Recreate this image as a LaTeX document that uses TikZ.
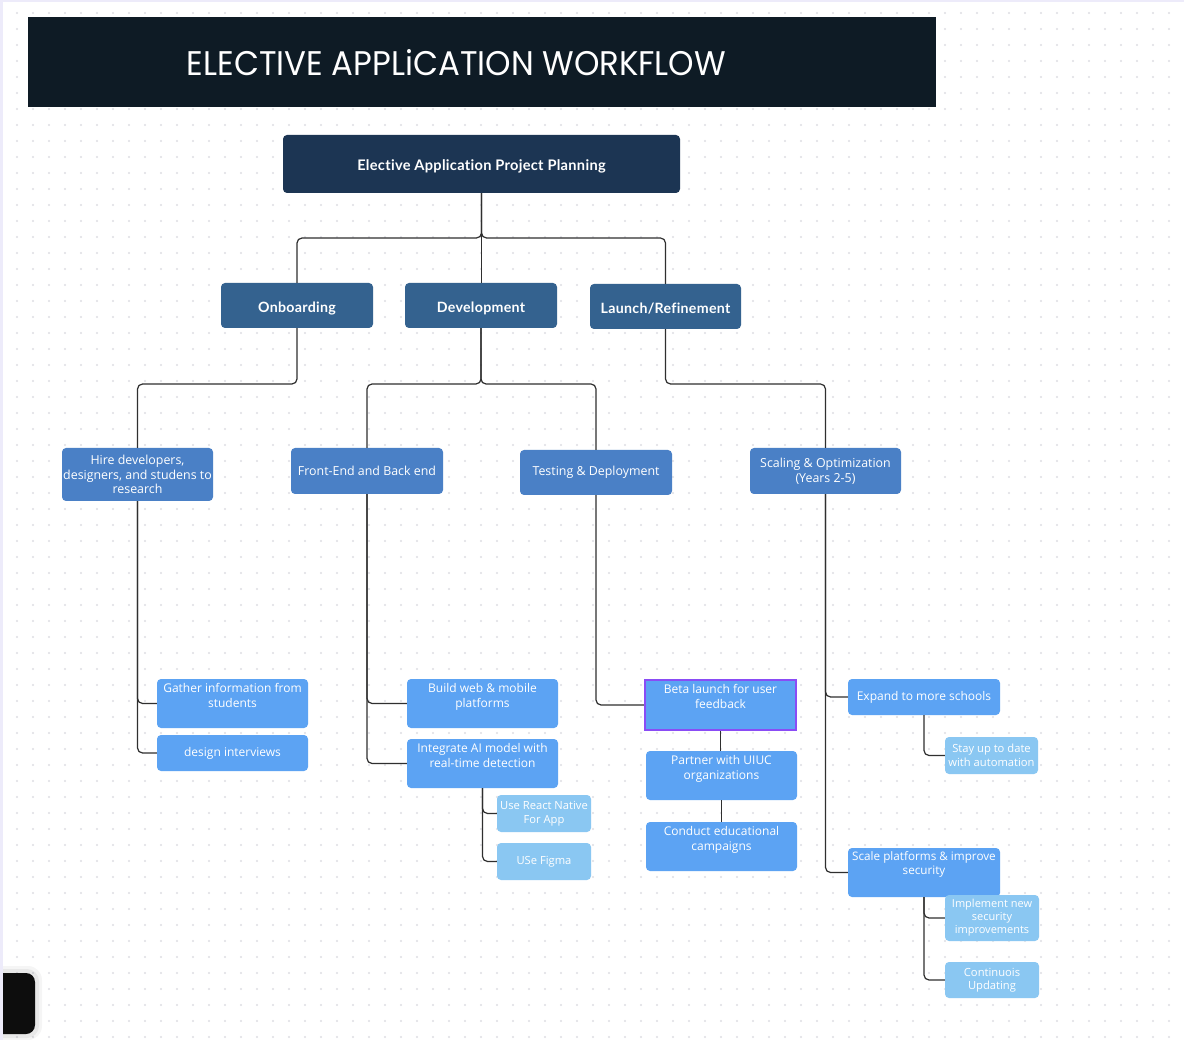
\documentclass[tikz,border=0pt]{standalone}
\usepackage{fontspec}
\setmainfont{Open Sans}
\newfontfamily\headf{Lato}[Ligatures={NoCommon,NoRequired,NoContextual}, LetterSpace=2]
\newfontfamily\titlef{Poppins}
\usetikzlibrary{calc}
\definecolor{titlebg}{HTML}{0E1B25}
\definecolor{navy}{HTML}{1C3553}
\definecolor{steel}{HTML}{34628F}
\definecolor{midb}{HTML}{4A80C6}
\definecolor{lightb}{HTML}{5CA3F3}
\definecolor{paleb}{HTML}{8AC7F2}
\definecolor{purp}{HTML}{8A4CF5}
\definecolor{linec}{HTML}{2F2F2F}
\definecolor{dotc}{HTML}{DEDEE3}
\definecolor{lav}{HTML}{EDEBFA}
\tikzset{
  box/.style={rectangle, rounded corners=4pt, inner sep=1pt, align=center, text=white},
  mainbox/.style={box, fill=navy, text height=13.4pt, text depth=0pt, font=\headf\bfseries\fontsize{14.6}{17}\selectfont},
  lvtwo/.style={box, fill=steel, minimum width=152pt, minimum height=45pt, text height=13.2pt, text depth=0pt, font=\headf\bfseries\fontsize{14.2}{17}\selectfont},
  lvthree/.style={box, fill=midb, minimum width=152pt, font=\fontsize{12.4}{14.8}\selectfont},
  lvfour/.style={box, fill=lightb, minimum width=151pt, font=\fontsize{12}{14.8}\selectfont},
  lvfive/.style={box, fill=paleb, minimum width=94pt, font=\fontsize{11.2}{13.5}\selectfont},
  ttext/.style={inner sep=0pt, align=center, text=white, font=\fontsize{12}{14.8}\selectfont, anchor=north},
  conn/.style={draw=linec, line width=1.2pt, rounded corners=5pt},
}
\begin{document}
\begin{tikzpicture}[x=1pt,y=-1pt]
\useasboundingbox (0,0) rectangle (1184,1040);
\fill[white] (0,0) rectangle (1184,1040);
% dotted grid
\foreach \gx in {17,33,...,1184}{
  \foreach \gy in {13,29,...,1040}{
    \fill[dotc] (\gx,\gy) circle (1.1pt);
  }
}
\fill[lav] (0,0) rectangle (3,1040);
\fill[lav] (0,0) rectangle (1184,2);

% title bar
\fill[titlebg] (28,17) rectangle (936,107);
\node[inner sep=0pt, text=white] (title) at (456.5,62.5)
  {\resizebox{539pt}{26pt}{\titlef ELECTIVE APPLiCATION WORKFLOW}};

% nodes
\node[mainbox, minimum width=397pt, minimum height=58pt] (main) at (481.5,164) {Elective Application Project Planning};

\node[lvtwo] (onb) at (297,305.5) {Onboarding};
\node[lvtwo] (dev) at (481,305.5) {Development};
\node[lvtwo, minimum width=151pt] (lau) at (665.5,306.5) {Launch/Refinement};

\node[lvthree, minimum width=151pt, minimum height=53pt] (hire) at (137.5,474.5) {Hire developers,\\designers, and studens to\\research};
\node[lvthree, minimum height=46pt] (fe) at (367,471) {Front-End and Back end};
\node[lvthree, minimum height=45pt] (td) at (596,472.5) {Testing \& Deployment};
\node[lvthree, minimum width=151pt, minimum height=46pt] (so) at (825.5,471) {Scaling \& Optimization\\(Years 2-5)};

\node[lvfour, minimum height=49pt] (gather) at (232.5,703.5) {};
\node[ttext] (gathert) at ([yshift=-4.5pt]gather.north) {Gather information from\\students};
\node[lvfour, minimum height=36pt] (di) at (232.5,753) {design interviews};

\node[lvfour, minimum height=49pt] (build) at (482.5,703.5) {};
\node[ttext] (buildt) at ([yshift=-4.5pt]build.north) {Build web \& mobile\\platforms};
\node[lvfour, minimum height=49pt] (integ) at (482.5,763.5) {};
\node[ttext] (integt) at ([yshift=-4.5pt]integ.north) {Integrate AI model with\\real-time detection};

\node[lvfive, minimum height=37pt] (react) at (544,813.5) {Use React Native\\For App};
\node[lvfive, minimum height=37pt] (figma) at (544,861.5) {USe Figma};

\node[box, fill=lightb, draw=purp, line width=2.4pt, rounded corners=0pt, minimum width=151pt, minimum height=50pt] (beta) at (720.5,705) {};
\node[ttext] (betat) at ([yshift=-5.5pt]beta.north) {Beta launch for user\\feedback};
\node[lvfour, minimum height=49pt] (partner) at (721.5,775.5) {};
\node[ttext] (partnert) at ([yshift=-4.5pt]partner.north) {Partner with UIUC\\organizations};
\node[lvfour, minimum height=49pt] (conduct) at (721.5,846.5) {};
\node[ttext] (conductt) at ([yshift=-4.5pt]conduct.north) {Conduct educational\\campaigns};

\node[lvfour, minimum width=152pt, minimum height=36pt] (expand) at (924,697) {Expand to more schools};
\node[lvfive, minimum width=93pt, minimum height=37pt] (stay) at (991.5,755.5) {Stay up to date\\with automation};
\node[lvfour, minimum width=152pt, minimum height=49pt] (scale) at (924,872.5) {};
\node[ttext, font=\fontsize{11.7}{14.5}\selectfont] (scalet) at ([yshift=-3.5pt]scale.north) {Scale platforms \& improve\\security};
\node[lvfive, minimum height=46pt, font=\fontsize{11}{13}\selectfont] (impl) at (992,918) {Implement new\\security\\improvements};
\node[lvfive, minimum height=36pt] (cont) at (992,980) {Continuois\\Updating};

% bus coordinates
\coordinate (busa) at (0,238);
\coordinate (busb) at (0,384);

% connectors
\draw[conn] (main.south) |- (busa -| onb.north) -- (onb.north);
\draw[conn] (main.south) -- (main.south |- dev.north);
\draw[conn] (main.south) |- (busa -| lau.north) -- (lau.north);

\draw[conn] (onb.south) |- (busb -| hire.north) -- (hire.north);
\draw[conn] (dev.south) |- (busb -| fe.north) -- (fe.north);
\draw[conn] (dev.south) |- (busb -| td.north) -- (td.north);
\draw[conn] (lau.south) |- (busb -| so.north) -- (so.north);

\draw[conn] (hire.south) |- (gather.west);
\draw[conn] (hire.south) |- (di.west);
\draw[conn] (fe.south) |- (build.west);
\draw[conn] (fe.south) |- (integ.west);
\draw[conn] (td.south) |- (beta.west);
\draw[conn] (beta.south) -- (beta.south |- partner.north);
\draw[conn] (partner.south) -- (conduct.north);
\draw[conn] (so.south) |- (expand.west);
\draw[conn] (so.south) |- (scale.west);

\draw[conn] (integ.south) |- (react.west);
\draw[conn] (integ.south) |- (figma.west);
\draw[conn] (expand.south) |- (stay.west);
\draw[conn] (scale.south) |- (impl.west);
\draw[conn] (scale.south) |- (cont.west);

% bottom-left dark tab
\begin{scope}
\clip (3,900) rectangle (200,1040);
\fill[black, opacity=0.04, rounded corners=14pt] (-20,966) rectangle (42,1040);
\fill[black, opacity=0.05, rounded corners=12pt] (-20,969) rectangle (39,1038);
\fill[black!95, rounded corners=9pt] (-20,973) rectangle (35,1034);
\end{scope}
\end{tikzpicture}
\end{document}
